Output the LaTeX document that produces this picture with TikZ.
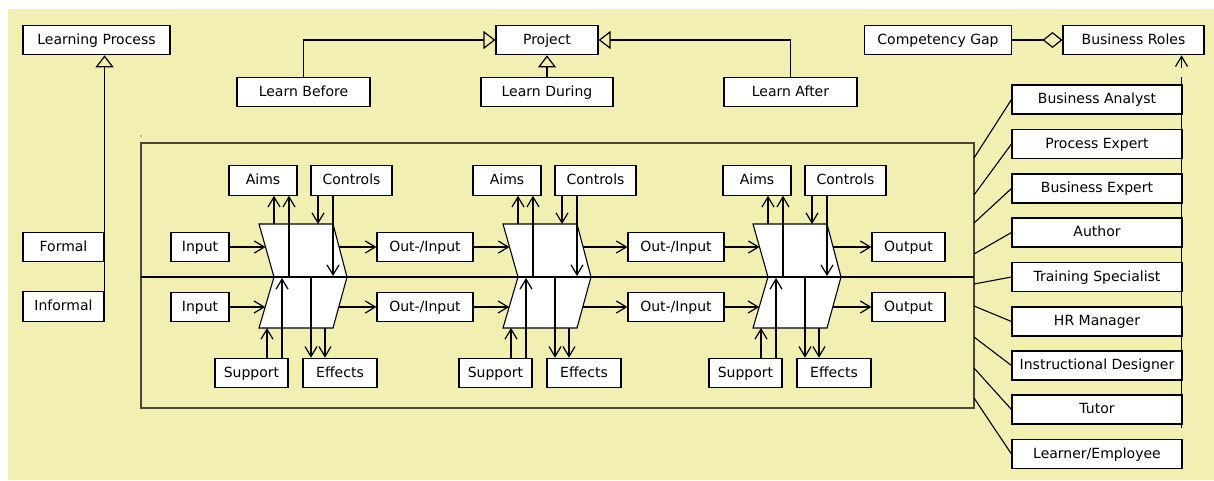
\documentclass[tikz,border=0pt]{standalone}
\usepackage{fontspec}
\setmainfont{DejaVu Sans}
\usetikzlibrary{arrows.meta}
\definecolor{bg}{RGB}{242,239,178}
\definecolor{fr}{RGB}{72,72,52}
\tikzset{
  ubox/.style={draw=black, fill=white, line width=1.1pt, minimum height=29.5pt,
    inner sep=0pt, text height=10.5pt, text depth=2.5pt,
    font=\fontsize{14}{16}\selectfont},
  ln/.style={draw=black, line width=1.1pt},
  arr/.style={ln, -{Straight Barb[length=10pt,width=12pt,line width=1.2pt]}},
  tri/.style={ln, -{Triangle[open,length=12pt,width=18pt,line width=1.2pt]}},
  dia/.style={ln, -{Diamond[open,length=20pt,width=16pt,line width=1.2pt]}},
  shp/.style={draw=black, fill=white, line width=1.1pt, line join=miter},
}
\newcommand\procblock[6]{%
  \draw[shp] (#2,224) -- ({#2+74},224) -- ({#2+88},277) -- ({#2+15},277) -- cycle;
  \draw[shp] ({#2+15},277) -- ({#2+88},277) -- ({#2+74},328) -- (#2,328) -- cycle;
  \node[ubox,minimum width=68pt] (#1aims) at ({#2+4},180.5) {Aims};
  \node[ubox,minimum width=81pt] (#1ctrl) at ({#2+92.5},180.5) {Controls};
  \node[ubox,minimum width=73pt] (#1sup) at ({#2-7.5},373) {Support};
  \node[ubox,minimum width=74pt] (#1eff) at ({#2+81},373) {Effects};
  \coordinate (#1lt) at ({#2+6.5},247);
  \coordinate (#1lb) at ({#2+6.2},307);
  \coordinate (#1rt) at ({#2+80.1},247);
  \coordinate (#1rb) at ({#2+79.8},307);
  \coordinate (#1ta) at ({#2+15},224);
  \coordinate (#1tb) at ({#2+30},277);
  \coordinate (#1tc) at ({#2+59},224);
  \coordinate (#1td) at ({#2+74},276);
  \coordinate (#1ba) at ({#2+8},328);
  \coordinate (#1bb) at ({#2+23},278);
  \coordinate (#1bc) at ({#2+52},277);
  \coordinate (#1bd) at ({#2+66},328);
  \draw[arr] (#3.east) -- (#1lt);
  \draw[arr] (#4.east) -- (#1lb);
  \draw[arr] (#1rt) -- (#5.west);
  \draw[arr] (#1rb) -- (#6.west);
  \draw[arr] (#1ta) -- (#1ta |- #1aims.south);
  \draw[arr] (#1tb) -- (#1tb |- #1aims.south);
  \draw[arr] (#1ctrl.south -| #1tc) -- (#1tc);
  \draw[arr] (#1ctrl.south -| #1td) -- (#1td);
  \draw[arr] (#1sup.north -| #1ba) -- (#1ba);
  \draw[arr] (#1sup.north -| #1bb) -- (#1bb);
  \draw[arr] (#1bc) -- (#1bc |- #1eff.north);
  \draw[arr] (#1bd) -- (#1bd |- #1eff.north);
}
\begin{document}
\begin{tikzpicture}[x=1pt,y=-1pt]
\useasboundingbox (0,0) rectangle (1214,480);
\fill[bg] (8,9) rectangle (1214,480);
\fill[black] (141,136) circle (0.7);
% main frame
\draw[draw=fr, line width=1.5pt] (141,143) rectangle (974,408);

% top row
\node[ubox,minimum width=147pt] (lp) at (96.5,40) {Learning Process};
\node[ubox,minimum width=102pt] (prj) at (547,40) {Project};
\node[ubox,minimum width=133pt,minimum height=29pt] (lb) at (303.5,92) {Learn Before};
\node[ubox,minimum width=132pt,minimum height=29pt] (ld) at (547,92) {Learn During};
\node[ubox,minimum width=133pt,minimum height=29pt] (la) at (790.5,92) {Learn After};
\node[ubox,minimum width=147pt] (cg) at (938,40) {Competency Gap};
\node[ubox,minimum width=141pt] (br) at (1133.5,40) {Business Roles};
\draw[tri] (lb.north) |- (prj.west);
\draw[tri] (la.north) |- (prj.east);
\draw[tri] (ld.north) -- (prj.south);
\draw[dia] (cg.east) -- (br.west);

% left
\node[ubox,minimum width=81pt] (frm) at (63.5,247) {Formal};
\node[ubox,minimum width=81pt] (inf) at (63.5,306.5) {Informal};
\draw[tri] (inf.north east) -- (inf.north east |- lp.south);

% row boxes
\node[ubox,minimum width=58pt] (in1t) at (200,247) {Input};
\node[ubox,minimum width=58pt] (in1b) at (200,307) {Input};
\node[ubox,minimum width=96pt] (oi1t) at (425,247) {Out-/Input};
\node[ubox,minimum width=96pt] (oi1b) at (425,307) {Out-/Input};
\node[ubox,minimum width=96pt] (oi2t) at (676,247) {Out-/Input};
\node[ubox,minimum width=96pt] (oi2b) at (676,307) {Out-/Input};
\node[ubox,minimum width=73pt] (outt) at (908.5,247) {Output};
\node[ubox,minimum width=73pt] (outb) at (908.5,307) {Output};

\procblock{pa}{259}{in1t}{in1b}{oi1t}{oi1b}
\procblock{pb}{503}{oi1t}{oi1b}{oi2t}{oi2b}
\procblock{pc}{753}{oi2t}{oi2b}{outt}{outb}

% middle thick line
\draw[draw=black, line width=2.4pt] (141,277) -- (974,277);

% roles
\node[ubox,minimum width=170pt,minimum height=29pt] (r1) at (1097,99.5) {Business Analyst};
\node[ubox,minimum width=170pt,minimum height=29pt] (r2) at (1097,144) {Process Expert};
\node[ubox,minimum width=170pt,minimum height=29pt] (r3) at (1097,188.5) {Business Expert};
\node[ubox,minimum width=170pt,minimum height=29pt] (r4) at (1097,232.5) {Author};
\node[ubox,minimum width=170pt,minimum height=29pt] (r5) at (1097,277) {Training Specialist};
\node[ubox,minimum width=170pt,minimum height=29pt] (r6) at (1097,321.5) {HR Manager};
\node[ubox,minimum width=170pt,minimum height=29pt] (r7) at (1097,365.5) {Instructional Designer};
\node[ubox,minimum width=170pt,minimum height=29pt] (r8) at (1097,409.5) {Tutor};
\node[ubox,minimum width=170pt,minimum height=29pt] (r9) at (1097,454) {Learner/Employee};
\coordinate (f1) at (974,158);
\coordinate (f2) at (974,195);
\coordinate (f3) at (974,223);
\coordinate (f4) at (974,254);
\coordinate (f5) at (974,284);
\coordinate (f6) at (974,306);
\coordinate (f7) at (974,337);
\coordinate (f8) at (974,368);
\coordinate (f9) at (974,398);
\draw[ln] (f1) -- (r1.west);
\draw[ln] (f2) -- (r2.west);
\draw[ln] (f3) -- (r3.west);
\draw[ln] (f4) -- (r4.west);
\draw[ln] (f5) -- (r5.west);
\draw[ln] (f6) -- (r6.west);
\draw[ln] (f7) -- (r7.west);
\draw[ln] (f8) -- (r8.west);
\draw[ln] (f9) -- (r9.west);

% role -> business roles
\coordinate (brl) at (1181.5,428);
\coordinate (brm) at (1181.5,77);
\coordinate (brt) at (1181.5,68);
\draw[ln] (brl) -- (brm);
\draw[arr] (brt) -- (brt |- br.south);
\end{tikzpicture}
\end{document}
